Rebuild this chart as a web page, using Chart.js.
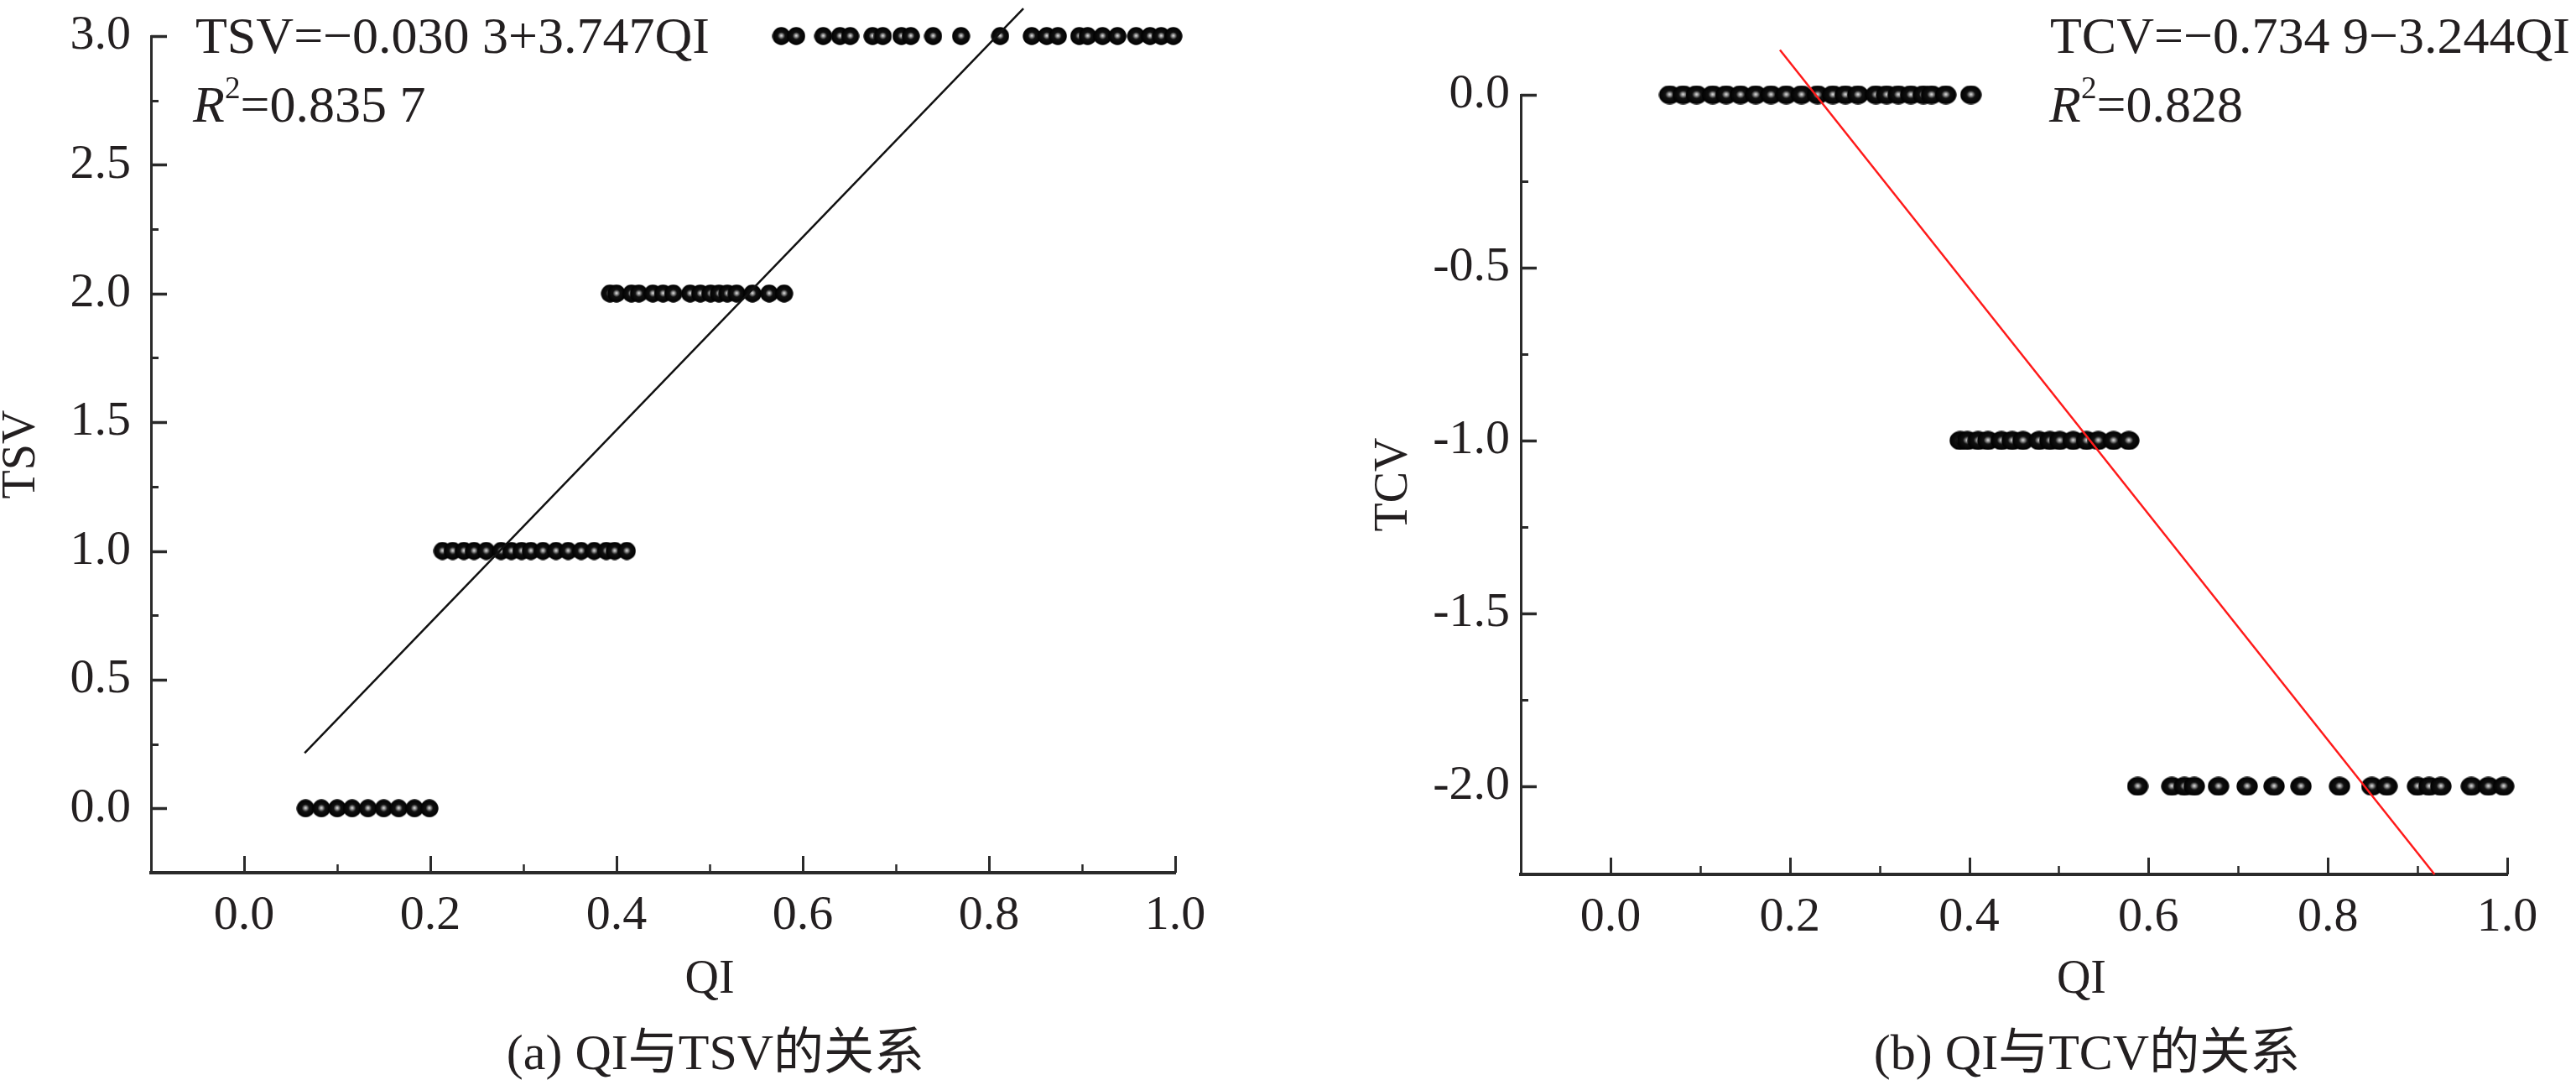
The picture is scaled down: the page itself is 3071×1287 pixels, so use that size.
<!DOCTYPE html>
<html>
<head>
<meta charset="utf-8">
<script src="https://cdn.jsdelivr.net/npm/chart.js@4/dist/chart.umd.min.js"></script>
<style>
  html, body { margin: 0; padding: 0; background: #fff; }
  #page { position: relative; width: 3071px; height: 1287px; overflow: hidden; background: #fff; }
  canvas { position: absolute; top: 0; }
  #tsvChart { left: 0; }
  #tcvChart { left: 1535px; }
  .eq { position: absolute; font-family: 'Liberation Serif', serif; font-size: 62px; line-height: 62px; color: #231f20; white-space: pre; }
  .eq sup { font-size: 0.6em; vertical-align: 0.75em; line-height: 0; }
  .caption { position: absolute; width: 1200px; text-align: center; font-family: 'Liberation Serif', 'Noto Sans CJK SC', serif; font-size: 60px; line-height: 60px; color: #231f20; white-space: pre; }
</style>
</head>
<body>
<div id="page">
  <canvas id="tsvChart" width="1535" height="1287"></canvas>
  <canvas id="tcvChart" width="1536" height="1287"></canvas>
  <div class="eq" style="left:233px;top:11px">TSV=−0.030 3+3.747QI</div>
  <div class="eq" style="left:230px;top:93px"><i>R</i><sup>2</sup>=0.835 7</div>
  <div class="eq" style="left:2444px;top:11px">TCV=−0.734 9−3.244QI</div>
  <div class="eq" style="left:2443px;top:93px"><i>R</i><sup>2</sup>=0.828</div>
  <div class="caption" style="left:253px;top:1224px">(a) QI与TSV的关系</div>
  <div class="caption" style="left:1888px;top:1224px">(b) QI与TCV的关系</div>
</div>
<script>
// axis ticks
const qiTicks = [0, 0.2, 0.4, 0.6, 0.8, 1.0];
const qiMinorTicks = [0.1, 0.3, 0.5, 0.7, 0.9];
const tsvTicks = [0, 0.5, 1, 1.5, 2, 2.5, 3];
const tsvMinorTicks = [0.25, 0.75, 1.25, 1.75, 2.25, 2.75];
const tcvTicks = [0, -0.5, -1, -1.5, -2];
const tcvMinorTicks = [-0.25, -0.75, -1.25, -1.75];

// (a) QI of the samples at each TSV level
const tsvLevels = [0, 1, 2, 3];
const qiAtTsv0 = [0.066, 0.083, 0.100, 0.116, 0.133, 0.150, 0.166, 0.183, 0.199];
const qiAtTsv1 = [0.213, 0.224, 0.236, 0.247, 0.260, 0.276, 0.287, 0.298, 0.308, 0.321, 0.335,
  0.348, 0.362, 0.376, 0.389, 0.398, 0.411];
const qiAtTsv2 = [0.393, 0.400, 0.416, 0.424, 0.439, 0.450, 0.461, 0.479, 0.490, 0.501, 0.510,
  0.519, 0.529, 0.546, 0.564, 0.580];
const qiAtTsv3 = [0.577, 0.593, 0.622, 0.640, 0.651, 0.675, 0.686, 0.706, 0.716, 0.740, 0.770,
  0.812, 0.846, 0.862, 0.874, 0.897, 0.906, 0.922, 0.938, 0.958, 0.973, 0.985, 0.998];

// (b) QI of the samples at each TCV level
const tcvLevels = [0, -1, -2];
const qiAtTcv0 = [0.066, 0.081, 0.096, 0.114, 0.129, 0.145, 0.162, 0.179, 0.196, 0.213, 0.231,
  0.248, 0.262, 0.276, 0.296, 0.308, 0.321, 0.335, 0.349, 0.358, 0.374, 0.402];
const qiAtTcvNeg1 = [0.390, 0.398, 0.410, 0.421, 0.436, 0.448, 0.460, 0.478, 0.490, 0.501, 0.516,
  0.531, 0.544, 0.561, 0.578];
const qiAtTcvNeg2 = [0.588, 0.626, 0.640, 0.651, 0.678, 0.710, 0.740, 0.770, 0.813, 0.849, 0.866,
  0.900, 0.913, 0.926, 0.960, 0.979, 0.996];

// fitted lines, end points as drawn
const tsvFitQI = [0.065, 0.837];
const tsvFitValue = [0.215, 3.107];
const tcvFitQI = [0.189, 0.919];
const tcvFitValue = [0.13, -2.255];

const textColor = '#231f20';
const axisColor = '#2a2a2a';

function toPoints(levels, groups) {
  return groups.flatMap((qis, i) => qis.map((q) => ({ x: q, y: levels[i] })));
}

function toLine(xs, ys) {
  return xs.map((x, i) => ({ x, y: ys[i] }));
}

// dark sphere marker with a small light spot in the middle
function makeBall(w, h) {
  const c = document.createElement('canvas');
  c.width = w;
  c.height = h;
  const g = c.getContext('2d');
  g.translate(w / 2, h / 2);
  g.scale(w / h, 1);
  const r = h / 2;
  const grad = g.createRadialGradient(0, -r * 0.05, 0, 0, 0, r);
  grad.addColorStop(0, '#e8e8e8');
  grad.addColorStop(0.18, '#8a8a8a');
  grad.addColorStop(0.4, '#111');
  grad.addColorStop(1, '#000');
  g.fillStyle = grad;
  g.beginPath();
  g.arc(0, 0, r - 0.3, 0, Math.PI * 2);
  g.fill();
  return c;
}

function decorPlugin(cfg) {
  return {
    id: 'axisDecor',
    afterDraw(chart) {
      const { ctx, chartArea: a, scales: { x, y } } = chart;
      ctx.save();
      ctx.strokeStyle = axisColor;
      ctx.lineCap = 'butt';
      // inward ticks on the x axis
      [[qiTicks, 20, 3], [qiMinorTicks, 10, 2.5]].forEach(([vals, len, lw]) => {
        ctx.lineWidth = lw;
        vals.forEach((v) => {
          const px = Math.round(x.getPixelForValue(v)) + 0.5;
          ctx.beginPath();
          ctx.moveTo(px, a.bottom);
          ctx.lineTo(px, a.bottom - len);
          ctx.stroke();
        });
      });
      // inward ticks on the y axis
      [[cfg.yTicks, 19, 3.5], [cfg.yMinor, 9, 3]].forEach(([vals, len, lw]) => {
        ctx.lineWidth = lw;
        vals.forEach((v) => {
          const py = Math.round(y.getPixelForValue(v)) + 0.5;
          ctx.beginPath();
          ctx.moveTo(a.left, py);
          ctx.lineTo(a.left + len, py);
          ctx.stroke();
        });
      });
      // axis titles
      ctx.fillStyle = textColor;
      ctx.font = '56px "Liberation Serif"';
      ctx.textAlign = 'center';
      ctx.textBaseline = 'alphabetic';
      const qx = (x.getPixelForValue(0) + x.getPixelForValue(1)) / 2 + cfg.xTitleShift;
      ctx.fillText('QI', qx, 1183);
      ctx.translate(cfg.yTitleX, (a.top + a.bottom) / 2);
      ctx.rotate(-Math.PI / 2);
      ctx.textBaseline = 'middle';
      ctx.fillText(cfg.yTitle, 0, 0);
      ctx.restore();
    }
  };
}

function makeChart(id, cfg) {
  const tickFont = { family: 'Liberation Serif', size: 58 };
  return new Chart(document.getElementById(id), {
    type: 'scatter',
    data: {
      datasets: [
        {
          label: 'fit',
          data: cfg.fit,
          showLine: true,
          borderColor: cfg.lineColor,
          borderWidth: 2.5,
          pointRadius: 0,
          fill: false,
          clip: false,
          order: 0
        },
        {
          label: 'samples',
          data: cfg.points,
          pointStyle: cfg.ball,
          pointRadius: 11,
          clip: false,
          order: 1
        }
      ]
    },
    options: {
      responsive: false,
      devicePixelRatio: 1,
      animation: false,
      layout: { padding: cfg.padding },
      plugins: { legend: { display: false }, tooltip: { enabled: false } },
      scales: {
        x: {
          type: 'linear',
          position: 'bottom',
          min: -0.1,
          max: 1.0,
          grid: { display: false, drawTicks: false },
          border: { display: true, color: axisColor, width: 4 },
          ticks: {
            font: tickFont,
            color: textColor,
            padding: 17,
            autoSkip: false,
            maxRotation: 0,
            callback: (v) => Number(v).toFixed(1)
          },
          afterBuildTicks: (s) => { s.ticks = qiTicks.map((v) => ({ value: v })); },
          afterFit: (s) => {
            s.height = cfg.xHeight;
            s.paddingLeft = 0;
            s.paddingRight = 0;
          }
        },
        y: {
          type: 'linear',
          position: 'left',
          min: cfg.yMin,
          max: cfg.yMax,
          grid: { display: false, drawTicks: false },
          border: { display: true, color: axisColor, width: 3 },
          ticks: {
            font: tickFont,
            color: textColor,
            padding: cfg.yTickPad,
            autoSkip: false,
            callback: (v) => Number(v).toFixed(1)
          },
          afterBuildTicks: (s) => { s.ticks = cfg.yTicks.map((v) => ({ value: v })); },
          afterFit: (s) => {
            s.width = cfg.yWidth;
            s.paddingTop = 0;
            s.paddingBottom = 0;
          }
        }
      }
    },
    plugins: [decorPlugin(cfg)]
  });
}

makeChart('tsvChart', {
  points: toPoints(tsvLevels, [qiAtTsv0, qiAtTsv1, qiAtTsv2, qiAtTsv3]),
  fit: toLine(tsvFitQI, tsvFitValue),
  lineColor: '#111111',
  ball: makeBall(22, 22),
  yMin: -0.25,
  yMax: 3.0,
  yTicks: tsvTicks,
  yMinor: tsvMinorTicks,
  yTitle: 'TSV',
  yTitleX: 26,
  xTitleShift: 0,
  yTickPad: 24,
  yWidth: 180,
  xHeight: 247,
  padding: { left: 0, right: 134, top: 43, bottom: 0 }
});

makeChart('tcvChart', {
  points: toPoints(tcvLevels, [qiAtTcv0, qiAtTcvNeg1, qiAtTcvNeg2]),
  fit: toLine(tcvFitQI, tcvFitValue),
  lineColor: '#ff1a1a',
  ball: makeBall(26, 23),
  yMin: -2.255,
  yMax: 0,
  yTicks: tcvTicks,
  yMinor: tcvMinorTicks,
  yTitle: 'TCV',
  yTitleX: 127,
  xTitleShift: 27,
  yTickPad: 13,
  yWidth: 278,
  xHeight: 245,
  padding: { left: 0, right: 82, top: 113, bottom: 0 }
});
</script>
</body>
</html>
